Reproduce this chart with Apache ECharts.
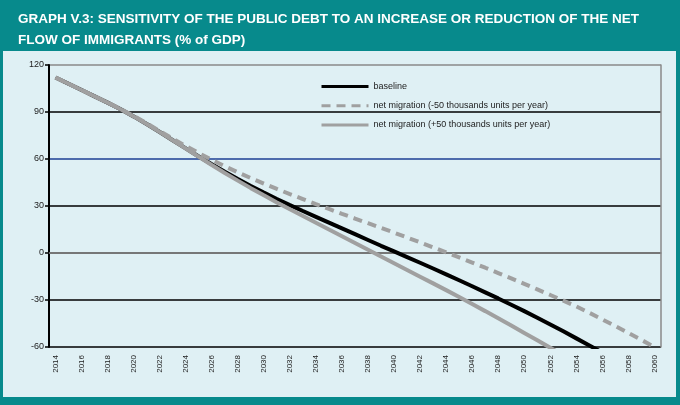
<!DOCTYPE html>
<html><head><meta charset="utf-8">
<script src="https://cdn.jsdelivr.net/npm/echarts@6/dist/echarts.min.js"></script>
<style>html,body{margin:0;padding:0;background:#078a8c;}#c{width:680px;height:405px;}</style>
</head><body><div id="c"></div>
<script>
const years = [];
for (let y = 2014; y <= 2060; y++) years.push(String(y));

const yTicks = [-60, -30, 0, 30, 60, 90, 120];

const baseline = [112,108,104,100,96,91.8,87.2,82.3,77.2,72,66.8,61.6,56.6,51.8,47.2,42.8,38.6,34.5,30.6,26.8,23.1,19.4,15.7,12,8.3,4.6,1,-2.6,-6.2,-9.9,-13.6,-17.4,-21.2,-25.1,-29,-33,-37.1,-41.3,-45.6,-50,-54.5,-59,-63.6,-68.2,-72.9,-77.6,-82.3];

const minus50 = [112,108,104,100,96,91.9,87.5,82.8,77.9,73,68.3,63.8,59.5,55.4,51.5,47.8,44.3,40.9,37.6,34.4,31.2,28.1,25,22,19,16,13,9.9,6.8,3.6,0.4,-2.8,-6.1,-9.4,-12.8,-16.2,-19.7,-23.2,-26.8,-30.4,-34.1,-38.2,-42.4,-46.7,-51.1,-55.5,-60];

const plus50 = [112,108,104,100,96,91.8,87.2,82.3,77.2,72,66.7,61.4,56.2,51.1,46.2,41.4,36.8,32.3,27.9,23.6,19.3,15,10.7,6.4,2.1,-2.2,-6.5,-10.8,-15.1,-19.4,-23.7,-28.1,-32.6,-37.1,-41.7,-46.3,-51,-55.7,-60.5,-65.3,-70.2,-75.1,-80,-85,-90,-95,-100];

const names = ['baseline', 'net migration (-50 thousands units per year)', 'net migration (+50 thousands units per year)'];

const chart = echarts.init(document.getElementById('c'), null, {renderer: 'canvas'});
chart.setOption({
  backgroundColor: '#078a8c',
  animation: false,
  title: {
    text: 'GRAPH V.3: SENSITIVITY OF THE PUBLIC DEBT TO AN INCREASE OR REDUCTION OF THE NET\nFLOW OF IMMIGRANTS (% of GDP)',
    left: 13, top: 4,
    textStyle: {color: '#ffffff', fontFamily: '"Liberation Sans", Arial, sans-serif', fontWeight: 'bold', fontSize: 13.5, lineHeight: 21}
  },
  graphic: [
    {type: 'rect', z: -100, silent: true, shape: {x: 3, y: 51, width: 673, height: 346}, style: {fill: '#dff0f4'}}
  ],
  grid: {left: 49, right: 19, top: 65, bottom: 58, containLabel: false},
  legend: {
    orient: 'vertical', left: 315, top: 76, itemWidth: 47, itemHeight: 14, itemGap: 8,
    data: names,
    itemStyle: {opacity: 0},
    lineStyle: {width: 3},
    textStyle: {fontSize: 9, color: '#222', fontFamily: 'Liberation Sans, Arial, sans-serif'}
  },
  xAxis: {
    type: 'category', data: years, boundaryGap: true,
    axisLine: {lineStyle: {color: '#8a8a8a', width: 1.5}},
    axisTick: {show: false},
    axisLabel: {interval: 1, rotate: 90, fontSize: 8, color: '#222', margin: 8, fontFamily: 'Liberation Sans, Arial, sans-serif'}
  },
  yAxis: [{
    type: 'value', min: -60, max: 120, interval: 30,
    axisLine: {show: true, lineStyle: {color: '#000', width: 2}},
    axisTick: {show: true, length: 4, lineStyle: {color: '#000', width: 1.5}},
    axisLabel: {fontSize: 9, color: '#222', margin: 5, fontFamily: 'Liberation Sans, Arial, sans-serif'},
    splitLine: {show: true, lineStyle: {color: ['#000', '#000', '#000', '#000', '#1c3f94', '#000', '#8a8a8a'], width: 1.5}}
  }, {
    type: 'value', min: -60, max: 120, interval: 30, position: 'right',
    axisLine: {show: true, lineStyle: {color: '#8a8a8a', width: 1.5}},
    axisTick: {show: false}, axisLabel: {show: false}, splitLine: {show: false}
  }],
  series: [
    {name: names[0], type: 'line', data: baseline, symbol: 'none', lineStyle: {color: '#000', width: 4}, itemStyle: {color: '#000'}, z: 3},
    {name: names[2], type: 'line', data: plus50, symbol: 'none', lineStyle: {color: '#a0a0a0', width: 4}, itemStyle: {color: '#a0a0a0'}, z: 4},
    {name: names[1], type: 'line', data: minus50, symbol: 'none', lineStyle: {color: '#a0a0a0', width: 4, type: [9, 6]}, itemStyle: {color: '#a0a0a0'}, z: 5}
  ]
});
</script>
</body></html>
